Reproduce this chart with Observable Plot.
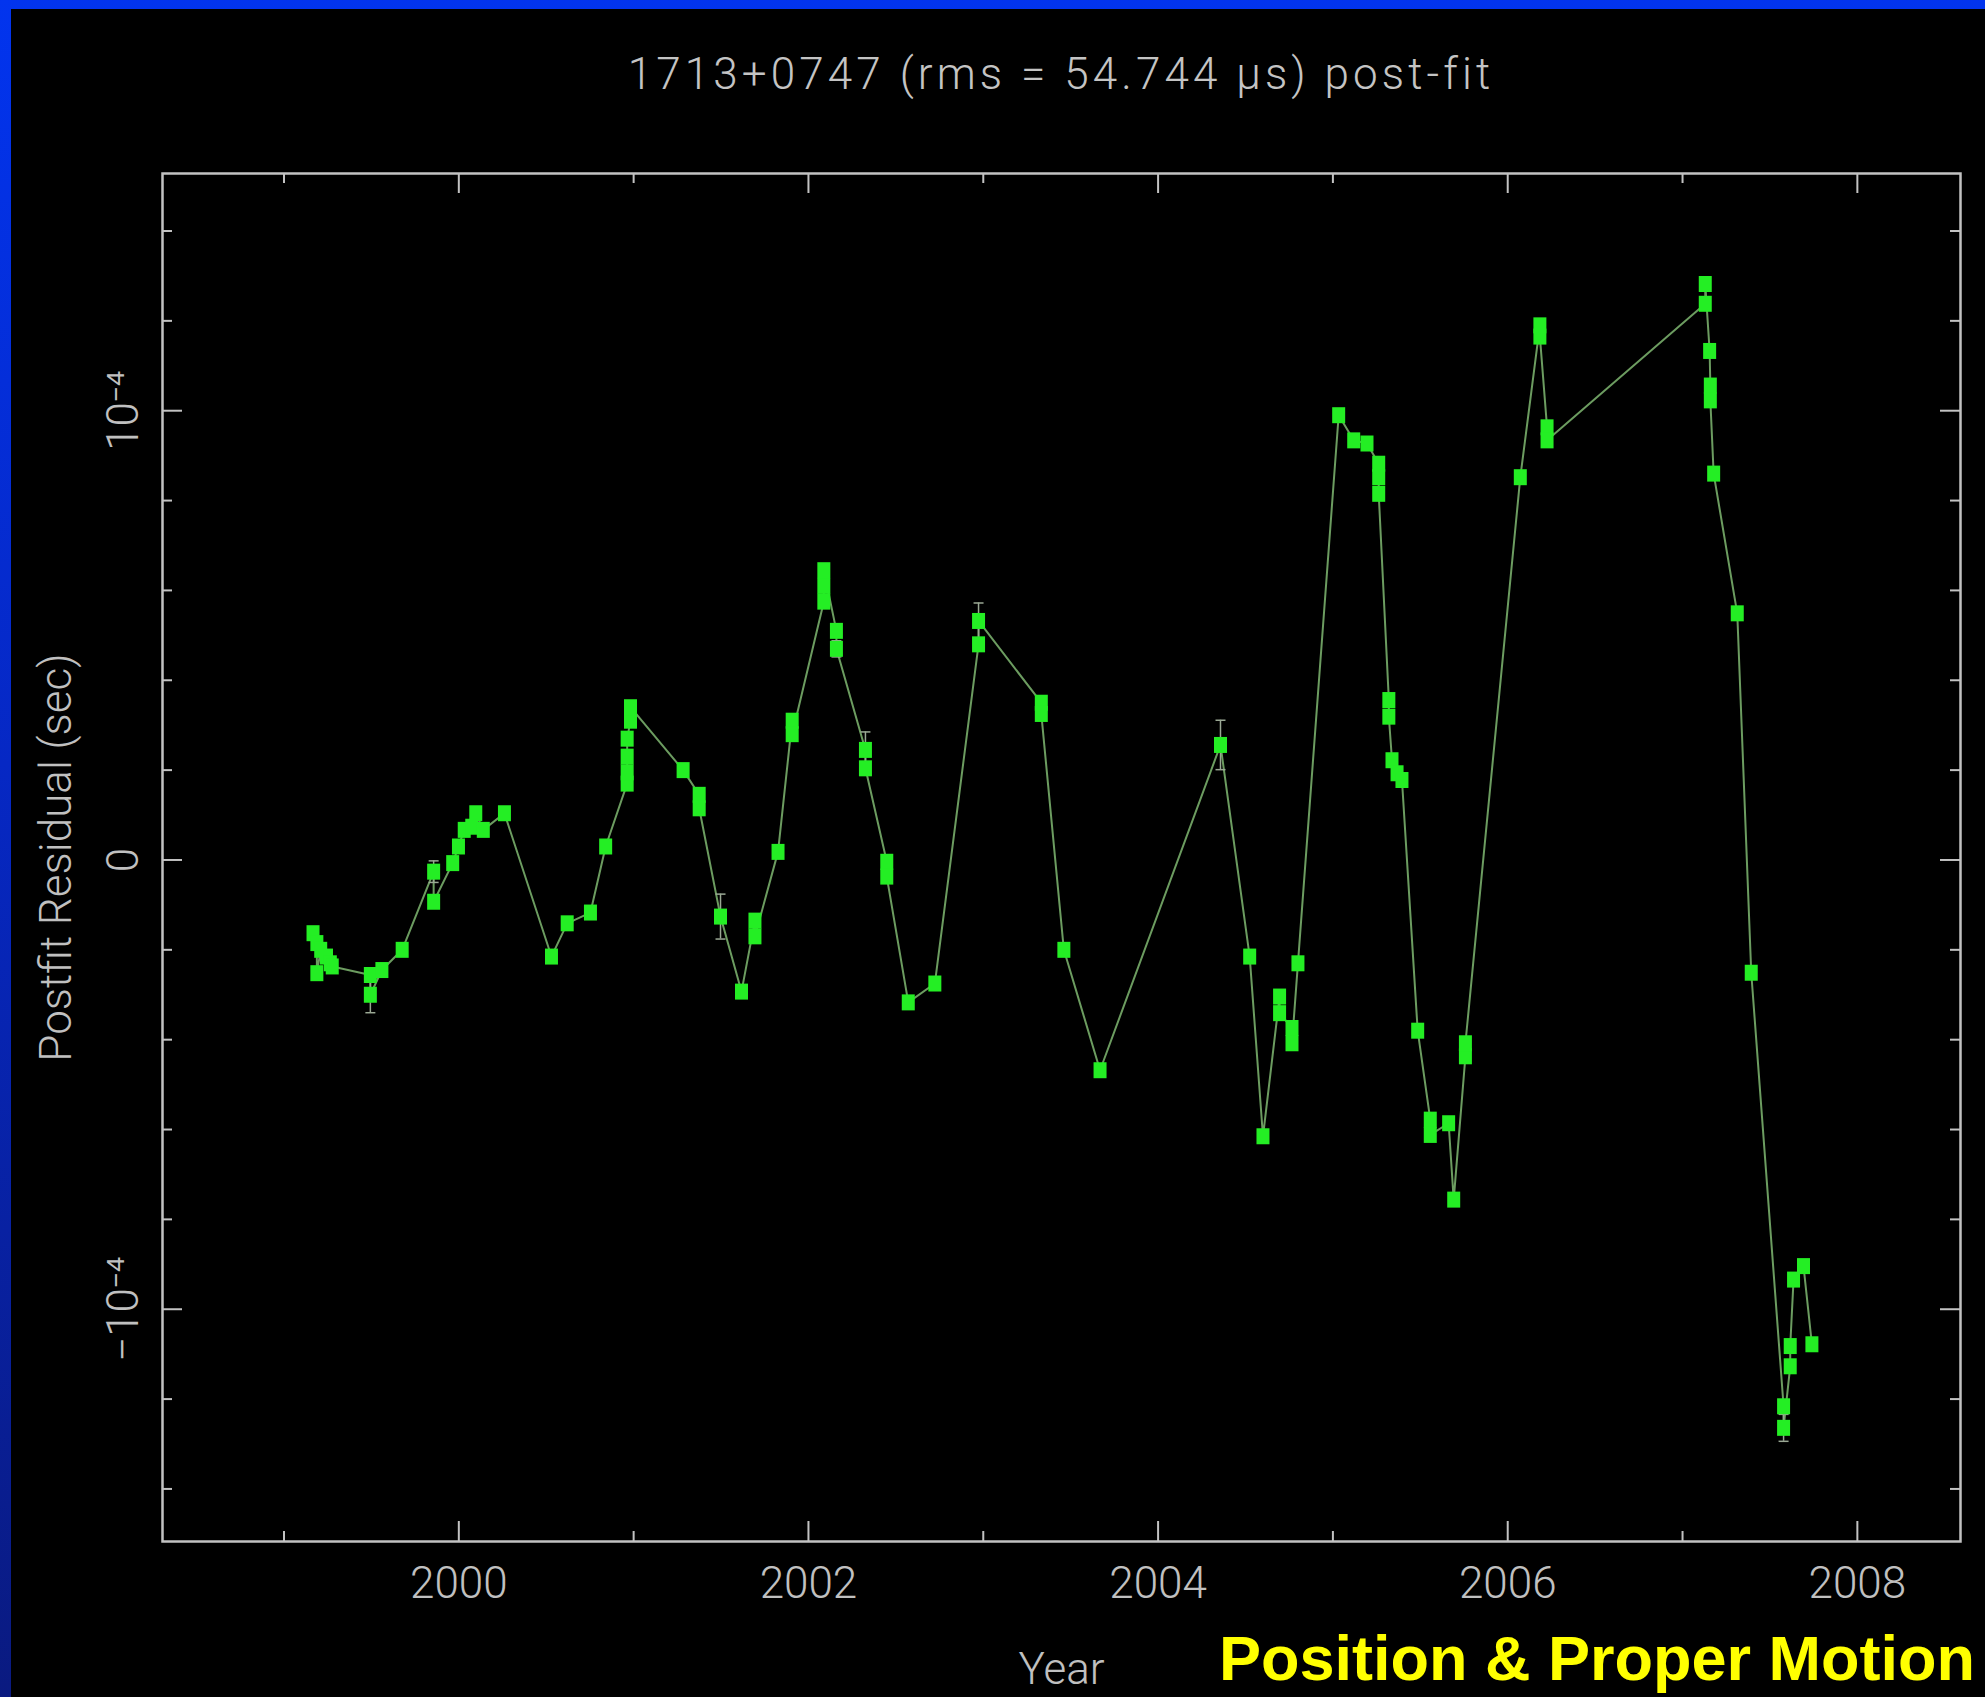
<!DOCTYPE html>
<html>
<head>
<meta charset="utf-8">
<script src="https://cdn.jsdelivr.net/npm/d3@7"></script>
<script src="https://cdn.jsdelivr.net/npm/@observablehq/plot@0.6"></script>
<style>
  html, body { margin: 0; padding: 0; width: 1985px; height: 1697px; overflow: hidden;
    background: linear-gradient(to bottom, #0234ee 0%, #0628c4 45%, #0a1a80 100%); }
  #panel { position: absolute; left: 11px; top: 9px; width: 1974px; height: 1688px; background: #000; }
  #title { position: absolute; left: 162px; width: 1798px; top: 46px; text-align: center;
    color: #c4c4c4; font-family: Roboto, "DejaVu Sans", sans-serif; font-weight: 300; font-size: 44px;
    letter-spacing: 4.1px; line-height: 56px; white-space: nowrap; }
  #chart { position: absolute; left: 0; top: 120px; }
  #tag { position: absolute; right: 10px; top: 1627px; color: #ffff00; white-space: nowrap;
    font-family: "Liberation Sans", Arial, sans-serif; font-weight: bold; font-size: 63px; line-height: 63px; }
</style>
</head>
<body>
<div id="panel"></div>
<div id="title">1713+0747 (rms = 54.744 μs) post-fit</div>
<div id="chart"></div>
<div id="tag">Position &amp; Proper Motion</div>
<script>
// ---- data (residuals in microseconds) ----
const years = [
  1999.166, 1999.188, 1999.188, 1999.210, 1999.243, 1999.265, 1999.276,
  1999.494, 1999.494, 1999.560, 1999.676, 1999.856, 1999.856, 1999.965,
  1999.998, 2000.031, 2000.074, 2000.097, 2000.140, 2000.261, 2000.530,
  2000.620, 2000.753, 2000.840, 2000.963, 2000.963, 2000.963, 2000.963,
  2000.982, 2000.982, 2001.283, 2001.375, 2001.375, 2001.497, 2001.617,
  2001.694, 2001.694, 2001.826, 2001.907, 2001.907, 2002.088, 2002.088,
  2002.088, 2002.160, 2002.160, 2002.326, 2002.326, 2002.448, 2002.448,
  2002.571, 2002.723, 2002.973, 2002.973, 2003.332, 2003.332, 2003.461,
  2003.668, 2004.357, 2004.524, 2004.600, 2004.695, 2004.695, 2004.766,
  2004.766, 2004.800, 2005.033, 2005.119, 2005.195, 2005.262, 2005.262,
  2005.262, 2005.320, 2005.320, 2005.338, 2005.367, 2005.395, 2005.485,
  2005.557, 2005.557, 2005.662, 2005.691, 2005.758, 2005.758, 2006.072,
  2006.184, 2006.184, 2006.225, 2006.225, 2007.130, 2007.130, 2007.155,
  2007.159, 2007.159, 2007.178, 2007.313, 2007.393, 2007.578, 2007.578,
  2007.616, 2007.616, 2007.635, 2007.692, 2007.740
];
const residuals = [
  -16.3, -18.5, -25.2, -20.0, -21.5, -23.0, -23.7,
  -25.6, -30.0, -24.5, -20.0, -2.6, -9.3, -0.7,
  3.0, 6.7, 7.4, 10.4, 6.7, 10.4, -21.5,
  -14.1, -11.7, 3.0, 17.0, 19.5, 23.0, 27.0,
  31.0, 34.0, 20.0, 14.5, 11.5, -12.6, -29.3,
  -13.5, -17.0, 1.8, 31.0, 28.0, 57.5, 61.0,
  64.5, 51.0, 47.0, 24.5, 20.4, -0.4, -3.7,
  -31.7, -27.5, 48.0, 53.2, 35.0, 32.5, -20.0,
  -46.8, 25.6, -21.5, -61.5, -30.4, -34.1, -37.4,
  -40.8, -23.0, 99.0, 93.4, 92.7, 88.2, 85.2,
  81.5, 35.6, 31.9, 22.2, 19.3, 17.8, -38.0,
  -57.8, -61.2, -58.6, -75.6, -43.7, -40.8, 85.2,
  119.0, 116.5, 96.3, 93.4, 123.8, 128.2, 113.3,
  105.6, 102.3, 86.0, 54.9, -25.1, -121.6, -126.4,
  -112.7, -108.2, -93.4, -90.4, -107.8
];
const errors = [
  1, 1, 1, 1, 1, 1, 1,
  1, 4.0, 1, 1, 2.4, 1, 1,
  1, 1, 1, 1, 1, 1, 1,
  1, 1, 1, 1, 1, 1, 1,
  1, 1, 1, 1, 1, 5.0, 1,
  1, 1, 1, 1, 1, 1, 1,
  1, 1, 1.8, 4.0, 1, 1, 1,
  1, 1, 1, 4.0, 1, 1, 1,
  1, 5.5, 1, 1, 1, 1, 1,
  1, 1, 1, 1, 1, 1, 1,
  1, 1, 1, 1, 1, 1, 1,
  1, 1, 1, 1, 1, 1, 1,
  1, 1, 1, 1, 1, 1, 1,
  1, 1, 1, 1, 1, 1, 3.0,
  1, 1, 1, 1, 1
];

// ---- axis ticks and labels ----
const xMajorTicks = [2000, 2002, 2004, 2006, 2008];
const xMinorTicks = [1999, 2001, 2003, 2005, 2007];
const xTickLabels = ["2000", "2002", "2004", "2006", "2008"];
const yMajorTicks = [-100, 0, 100];
const yMinorTicks = [-140, -120, -80, -60, -40, -20, 20, 40, 60, 80, 120, 140];
const yTickLabels = ["\u221210\u207B\u2074", "0", "10\u207B\u2074"];
const xLabel = "Year";
const yLabel = "Postfit Residual (sec)";

// ---- layout ----
const W = 1985, H = 1577;
const mL = 162, mR = 25, mT = 53, mB = 156;
const innerW = W - mL - mR, innerH = H - mT - mB;
const axisGray = "#c2c2c2";
const textStyle = { fill: "#c0c0c0", fontFamily: "Roboto, 'DejaVu Sans', sans-serif", fontWeight: 300, fontSize: 44 };

const points = years.map((t, i) => ({ year: t, res: residuals[i], err: errors[i] }));

const markerShape = { draw(ctx) { ctx.rect(-6.5, -8, 13, 16); } };
const capShape = { draw(ctx) { ctx.moveTo(-5, 0); ctx.lineTo(5, 0); } };

const chart = Plot.plot({
  width: W, height: H,
  marginLeft: mL, marginRight: mR, marginTop: mT, marginBottom: mB,
  x: { domain: [1998.305, 2008.59], axis: null },
  y: { domain: [-151.7, 152.8], axis: null },
  style: { background: "transparent", overflow: "visible" },
  marks: [
    Plot.frame({ stroke: axisGray, strokeWidth: 2.5 }),
    // bottom ticks
    Plot.tickX(xMinorTicks, { x: d => d, insetTop: innerH - 10, stroke: axisGray, strokeWidth: 2 }),
    Plot.tickX(xMajorTicks, { x: d => d, insetTop: innerH - 20, stroke: axisGray, strokeWidth: 2 }),
    // top ticks
    Plot.tickX(xMinorTicks, { x: d => d, insetBottom: innerH - 10, stroke: axisGray, strokeWidth: 2 }),
    Plot.tickX(xMajorTicks, { x: d => d, insetBottom: innerH - 20, stroke: axisGray, strokeWidth: 2 }),
    // left ticks
    Plot.tickY(yMinorTicks, { y: d => d, insetRight: innerW - 10, stroke: axisGray, strokeWidth: 2 }),
    Plot.tickY(yMajorTicks, { y: d => d, insetRight: innerW - 20, stroke: axisGray, strokeWidth: 2 }),
    // right ticks
    Plot.tickY(yMinorTicks, { y: d => d, insetLeft: innerW - 10, stroke: axisGray, strokeWidth: 2 }),
    Plot.tickY(yMajorTicks, { y: d => d, insetLeft: innerW - 20, stroke: axisGray, strokeWidth: 2 }),
    // tick labels
    Plot.text(xMajorTicks, { x: d => d, text: (d, i) => xTickLabels[i], frameAnchor: "bottom", dy: 42, textAnchor: "middle", lineAnchor: "middle", ...textStyle }),
    Plot.text(yMajorTicks, { y: d => d, text: (d, i) => yTickLabels[i], frameAnchor: "left", dx: -39, rotate: -90, textAnchor: "middle", lineAnchor: "middle", ...textStyle }),
    // axis labels
    Plot.text([xLabel], { text: d => d, frameAnchor: "bottom", dy: 128, textAnchor: "middle", lineAnchor: "middle", ...textStyle }),
    Plot.text([yLabel], { text: d => d, frameAnchor: "left", dx: -106, rotate: -90, textAnchor: "middle", lineAnchor: "middle", ...textStyle }),
    // data
    Plot.line(points, { x: "year", y: "res", stroke: "#6c9c60", strokeWidth: 2 }),
    Plot.ruleX(points, { x: "year", y1: d => d.res - d.err, y2: d => d.res + d.err, stroke: "#9aa894", strokeWidth: 1.5 }),
    Plot.dot(points, { x: "year", y: d => d.res + d.err, symbol: capShape, stroke: "#9aa894", fill: "none", strokeWidth: 1.5 }),
    Plot.dot(points, { x: "year", y: d => d.res - d.err, symbol: capShape, stroke: "#9aa894", fill: "none", strokeWidth: 1.5 }),
    Plot.dot(points, { x: "year", y: "res", symbol: markerShape, fill: "#24ee24", stroke: "none" })
  ]
});
document.getElementById("chart").appendChild(chart);
</script>
</body>
</html>
